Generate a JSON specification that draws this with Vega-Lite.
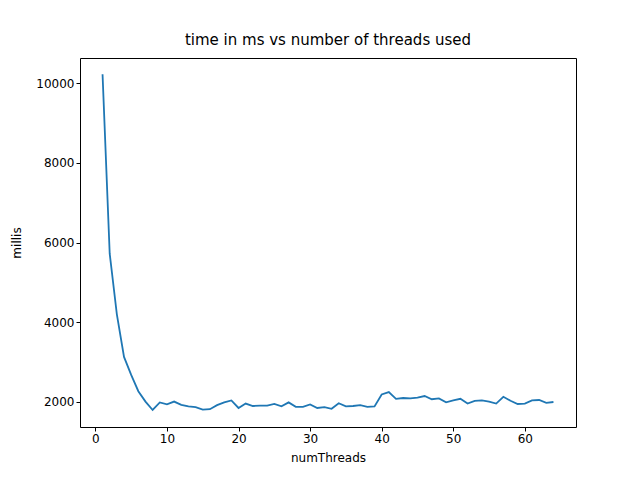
{
  "$schema": "https://vega.github.io/schema/vega-lite/v6.json",
  "width": 496,
  "height": 369,
  "autosize": {"type": "none"},
  "padding": {"left": 80, "top": 58, "right": 64, "bottom": 53},
  "background": "white",
  "title": {"text": "time in ms vs number of threads used", "font": "DejaVu Sans", "fontSize": 15, "fontWeight": "normal", "offset": 10},
  "config": {
    "view": {"stroke": "black", "strokeWidth": 1},
    "axis": {"grid": false, "labelFont": "DejaVu Sans", "titleFont": "DejaVu Sans", "labelFontSize": 12, "titleFontSize": 12, "titleFontWeight": "normal", "domain": false, "tickColor": "black", "tickSize": 4, "labelColor": "black", "titleColor": "black"}
  },
  "data": {"values": [
    {"numThreads": 1, "millis": 10220}, {"numThreads": 2, "millis": 5720}, {"numThreads": 3, "millis": 4200}, {"numThreads": 4, "millis": 3130},
    {"numThreads": 5, "millis": 2680}, {"numThreads": 6, "millis": 2270}, {"numThreads": 7, "millis": 2010}, {"numThreads": 8, "millis": 1800},
    {"numThreads": 9, "millis": 1990}, {"numThreads": 10, "millis": 1940}, {"numThreads": 11, "millis": 2010}, {"numThreads": 12, "millis": 1930},
    {"numThreads": 13, "millis": 1890}, {"numThreads": 14, "millis": 1870}, {"numThreads": 15, "millis": 1810}, {"numThreads": 16, "millis": 1820},
    {"numThreads": 17, "millis": 1920}, {"numThreads": 18, "millis": 1990}, {"numThreads": 19, "millis": 2040}, {"numThreads": 20, "millis": 1850},
    {"numThreads": 21, "millis": 1960}, {"numThreads": 22, "millis": 1900}, {"numThreads": 23, "millis": 1910}, {"numThreads": 24, "millis": 1910},
    {"numThreads": 25, "millis": 1950}, {"numThreads": 26, "millis": 1890}, {"numThreads": 27, "millis": 1990}, {"numThreads": 28, "millis": 1880},
    {"numThreads": 29, "millis": 1880}, {"numThreads": 30, "millis": 1940}, {"numThreads": 31, "millis": 1850}, {"numThreads": 32, "millis": 1870},
    {"numThreads": 33, "millis": 1830}, {"numThreads": 34, "millis": 1970}, {"numThreads": 35, "millis": 1890}, {"numThreads": 36, "millis": 1900},
    {"numThreads": 37, "millis": 1920}, {"numThreads": 38, "millis": 1880}, {"numThreads": 39, "millis": 1890}, {"numThreads": 40, "millis": 2190},
    {"numThreads": 41, "millis": 2250}, {"numThreads": 42, "millis": 2080}, {"numThreads": 43, "millis": 2100}, {"numThreads": 44, "millis": 2090},
    {"numThreads": 45, "millis": 2110}, {"numThreads": 46, "millis": 2150}, {"numThreads": 47, "millis": 2070}, {"numThreads": 48, "millis": 2090},
    {"numThreads": 49, "millis": 1990}, {"numThreads": 50, "millis": 2040}, {"numThreads": 51, "millis": 2080}, {"numThreads": 52, "millis": 1960},
    {"numThreads": 53, "millis": 2030}, {"numThreads": 54, "millis": 2040}, {"numThreads": 55, "millis": 2010}, {"numThreads": 56, "millis": 1960},
    {"numThreads": 57, "millis": 2130}, {"numThreads": 58, "millis": 2030}, {"numThreads": 59, "millis": 1950}, {"numThreads": 60, "millis": 1960},
    {"numThreads": 61, "millis": 2040}, {"numThreads": 62, "millis": 2050}, {"numThreads": 63, "millis": 1980}, {"numThreads": 64, "millis": 2000}
  ]},
  "mark": {"type": "line", "color": "#1f77b4", "strokeWidth": 1.8, "clip": true},
  "encoding": {
    "x": {"field": "numThreads", "type": "quantitative", "title": "numThreads",
      "scale": {"domain": [-2.15, 67.15], "nice": false, "zero": false},
      "axis": {"values": [0, 10, 20, 30, 40, 50, 60], "titlePadding": 8}},
    "y": {"field": "millis", "type": "quantitative", "title": "millis",
      "scale": {"domain": [1373, 10627], "nice": false, "zero": false},
      "axis": {"values": [2000, 4000, 6000, 8000, 10000], "format": "d", "titlePadding": 12}}
  }
}
